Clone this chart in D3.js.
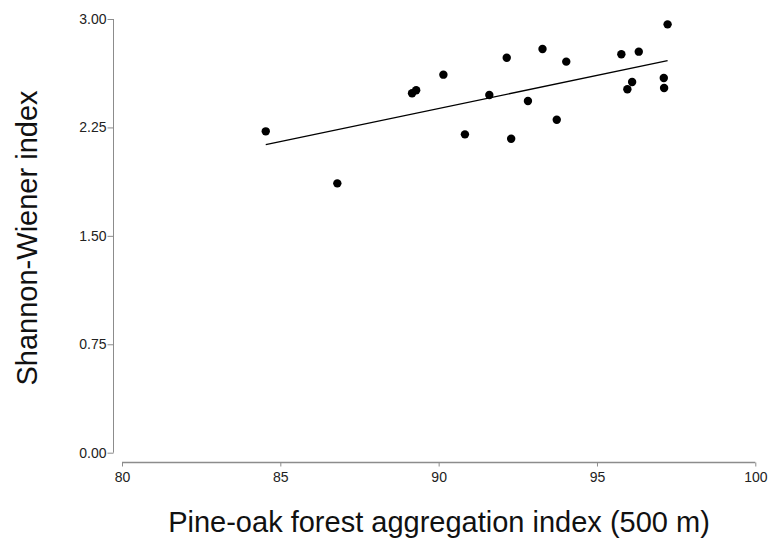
<!DOCTYPE html>
<html>
<head>
<meta charset="utf-8">
<script src="https://cdn.jsdelivr.net/npm/d3@7"></script>
<style>
html,body{margin:0;padding:0;background:#fff;}
svg{display:block;}
text{font-family:"Liberation Sans",Arial,sans-serif;}
</style>
</head>
<body>
<svg id="chart" width="773" height="540"></svg>
<script>
const aggregationIndex = [84.54, 86.80, 89.16, 89.29, 90.15, 90.83, 91.60, 92.15, 92.29, 92.82,
  93.28, 93.73, 94.03, 95.77, 95.96, 96.11, 96.32, 97.11, 97.12, 97.23];
const shannonWiener = [2.223, 1.863, 2.486, 2.507, 2.615, 2.202, 2.474, 2.732, 2.172, 2.433,
  2.792, 2.303, 2.705, 2.756, 2.514, 2.564, 2.774, 2.592, 2.523, 2.963];
const xTicks = [80, 85, 90, 95, 100];
const yTicks = [0, 0.75, 1.5, 2.25, 3.0];
const xTitle = "Pine-oak forest aggregation index (500 m)";
const yTitle = "Shannon-Wiener index";

const svg = d3.select("#chart");
const x = d3.scaleLinear().domain([80, 100]).range([122, 755.3]);
const y = d3.scaleLinear().domain([0, 3]).range([452.7, 19]);

// Y axis
const yAxis = svg.append("g").attr("transform", "translate(113.5,0)")
  .call(d3.axisLeft(y).tickValues(yTicks).tickFormat(d3.format(".2f")).tickSize(6).tickPadding(1));
yAxis.select(".domain").attr("d", `M0,${y(3)}V${y(0)}`).attr("stroke", "#8c8c8c");
yAxis.selectAll(".tick line").attr("stroke", "#8c8c8c");
yAxis.selectAll(".tick text").attr("font-size", "14px").attr("fill", "#222");

// X axis
const xAxis = svg.append("g").attr("transform", "translate(0,462.5)")
  .call(d3.axisBottom(x).tickValues(xTicks).tickFormat(d3.format("d")).tickSize(4).tickPadding(6));
xAxis.select(".domain").attr("d", `M${x(80)},0H${x(100)}`).attr("stroke", "#8c8c8c").attr("stroke-width", 1.5);
xAxis.selectAll(".tick line").attr("stroke", "#8c8c8c");
xAxis.selectAll(".tick text").attr("font-size", "14px").attr("fill", "#222");

// Regression line (least squares)
const n = aggregationIndex.length;
const mx = d3.mean(aggregationIndex), my = d3.mean(shannonWiener);
let sxy = 0, sxx = 0;
for (let i = 0; i < n; i++) {
  sxy += (aggregationIndex[i] - mx) * (shannonWiener[i] - my);
  sxx += (aggregationIndex[i] - mx) ** 2;
}
const slope = sxy / sxx, intercept = my - slope * mx;
const [x0, x1] = d3.extent(aggregationIndex);
svg.append("line")
  .attr("x1", x(x0)).attr("y1", y(intercept + slope * x0))
  .attr("x2", x(x1)).attr("y2", y(intercept + slope * x1))
  .attr("stroke", "#000").attr("stroke-width", 1.3);

// Points
svg.append("g").selectAll("circle")
  .data(aggregationIndex.map((v, i) => [v, shannonWiener[i]]))
  .join("circle")
  .attr("cx", d => x(d[0])).attr("cy", d => y(d[1]))
  .attr("r", 4.2).attr("fill", "#000");

// Titles
svg.append("text").attr("x", 439).attr("y", 532).attr("text-anchor", "middle")
  .attr("font-size", "29px").attr("fill", "#111").text(xTitle);
svg.append("text").attr("transform", "translate(36.5,238) rotate(-90)").attr("text-anchor", "middle")
  .attr("font-size", "29px").attr("fill", "#111").text(yTitle);
</script>
</body>
</html>
